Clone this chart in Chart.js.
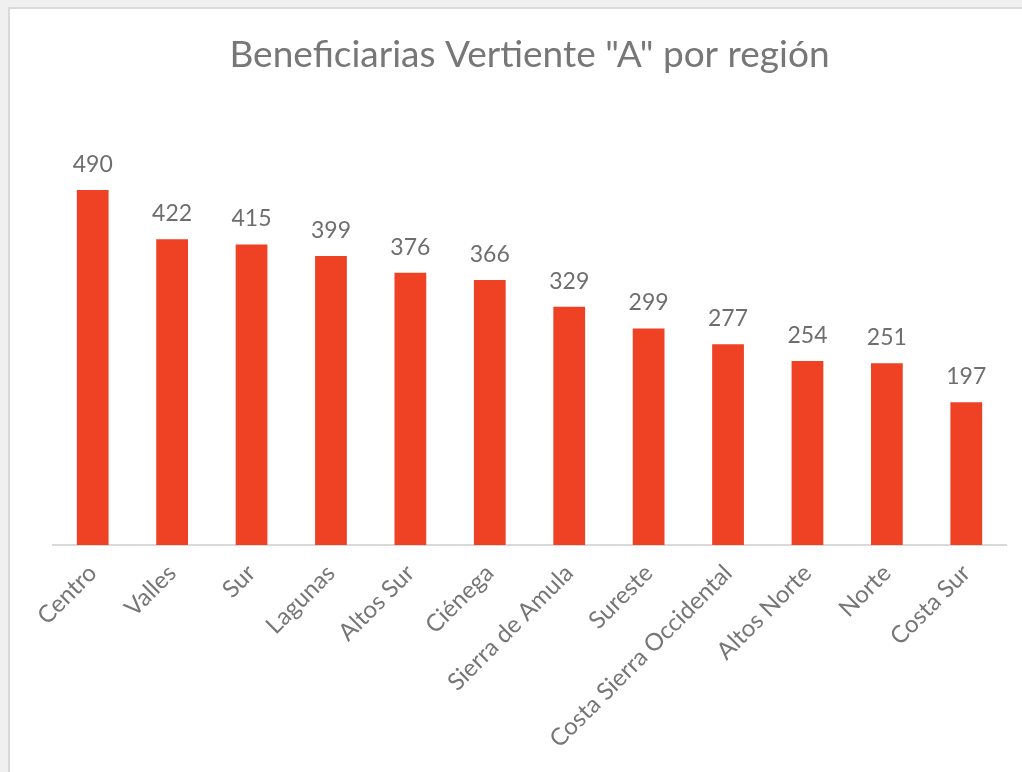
<!DOCTYPE html>
<html>
<head>
<meta charset="utf-8">
<script src="https://cdn.jsdelivr.net/npm/chart.js@4"></script>
<style>
  html, body { margin: 0; padding: 0; background: #f0f0f0; overflow: hidden; }
  #frame { position: absolute; left: 8px; top: 7px; width: 1100px; height: 900px;
           background: #fff; border: 2px solid #d9d9d9; }
  #wrap { position: absolute; left: 0; top: 0; width: 1022px; height: 772px; }
</style>
</head>
<body>
<div id="frame"></div>
<div id="wrap"><canvas id="chart"></canvas></div>
<script>
var regiones = ["Centro", "Valles", "Sur", "Lagunas", "Altos Sur", "Ciénega",
    "Sierra de Amula", "Sureste", "Costa Sierra Occidental", "Altos Norte", "Norte", "Costa Sur"];
var beneficiarias = [490, 422, 415, 399, 376, 366, 329, 299, 277, 254, 251, 197];

var fuente = "Lato, 'Open Sans', sans-serif";

// etiquetas encima de cada barra
var etiquetas = {
    id: 'etiquetas',
    afterDatasetsDraw: function(chart) {
        var ctx = chart.ctx;
        var meta = chart.getDatasetMeta(0);
        ctx.save();
        ctx.font = '23px ' + fuente;
        ctx.fillStyle = '#6e6e6e';
        ctx.textAlign = 'center';
        ctx.textBaseline = 'alphabetic';
        meta.data.forEach(function(bar, i) {
            ctx.fillText(beneficiarias[i], bar.x, bar.y - 18);
        });
        ctx.restore();
    }
};

var ctx = document.getElementById("chart");
new Chart(ctx, {
    type: 'bar',
    data: {
        labels: regiones,
        datasets: [{
            data: beneficiarias,
            backgroundColor: '#ef4225',
            barPercentage: 0.4,
            categoryPercentage: 1.0
        }]
    },
    options: {
        responsive: true,
        maintainAspectRatio: false,
        animation: false,
        layout: { padding: { left: 53, right: 16, top: 0, bottom: 0 } },
        plugins: {
            legend: { display: false },
            tooltip: { enabled: false },
            title: {
                display: true,
                text: 'Beneficiarias Vertiente "A" por región',
                color: '#777777',
                font: { family: fuente, size: 37, weight: 'normal' },
                padding: { top: 33, bottom: 33 }
            }
        },
        scales: {
            x: {
                grid: { display: false },
                border: { display: true, color: '#d9d9d9', width: 2 },
                ticks: {
                    color: '#767676',
                    font: { family: fuente, size: 24 },
                    minRotation: 45,
                    maxRotation: 45,
                    padding: 6
                },
                afterFit: function(scale) { scale.height = 227; }
            },
            y: {
                display: false,
                min: 0,
                max: 600
            }
        }
    },
    plugins: [etiquetas]
});
</script>
</body>
</html>
